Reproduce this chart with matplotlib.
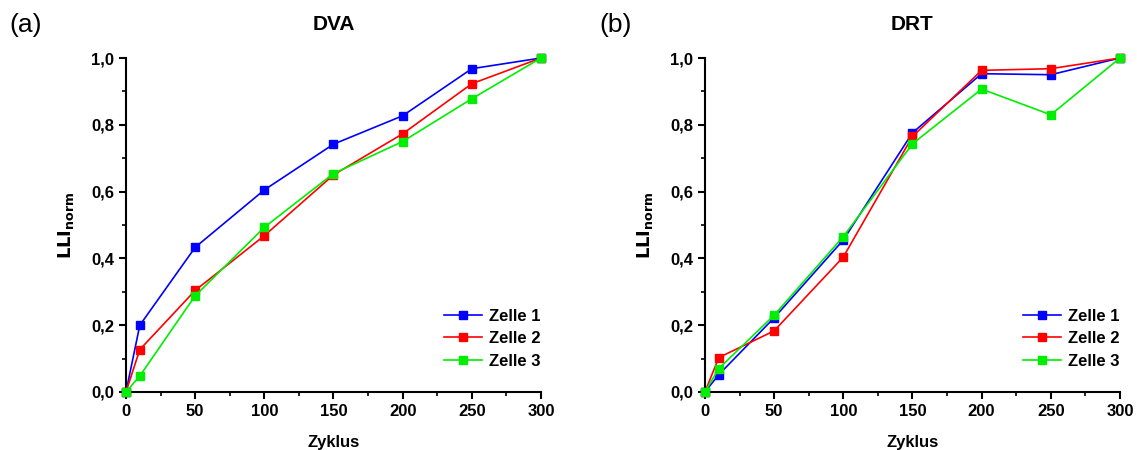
import matplotlib
matplotlib.use("Agg")
import matplotlib.pyplot as plt
from matplotlib.ticker import FuncFormatter, MultipleLocator

plt.rcParams['font.family'] = ['Liberation Sans', 'DejaVu Sans']

# data
cycles = [0, 10, 50, 100, 150, 200, 250, 300]
dva_z1 = [0, 0.200, 0.433, 0.605, 0.742, 0.827, 0.968, 1.0]
dva_z2 = [0, 0.127, 0.304, 0.468, 0.650, 0.773, 0.923, 1.0]
dva_z3 = [0, 0.048, 0.288, 0.493, 0.654, 0.750, 0.878, 1.0]
drt_z1 = [0, 0.052, 0.222, 0.455, 0.776, 0.953, 0.950, 1.0]
drt_z2 = [0, 0.103, 0.183, 0.404, 0.765, 0.963, 0.968, 1.0]
drt_z3 = [0, 0.070, 0.230, 0.465, 0.743, 0.907, 0.830, 1.0]
labels = ["Zelle 1", "Zelle 2", "Zelle 3"]
colors = ["#0000ff", "#ff0000", "#00ee00"]

fig = plt.figure(figsize=(11.37, 4.5), dpi=100)
ax1 = fig.add_axes([0.1108, 0.1289, 0.365, 0.7422])
ax2 = fig.add_axes([0.620, 0.1289, 0.365, 0.7422])

comma = FuncFormatter(lambda v, p: ("%.1f" % v).replace(".", ","))

for ax, series, title, tag, tx in [(ax1, [dva_z1, dva_z2, dva_z3], "DVA", "(a)", 0.008),
                                   (ax2, [drt_z1, drt_z2, drt_z3], "DRT", "(b)", 0.527)]:
    for ys, lab, col in zip(series, labels, colors):
        ax.plot(cycles, ys, color=col, marker="s", markersize=6, lw=1.2,
                label=lab, clip_on=False, zorder=3)
    ax.set_xlim(0, 300)
    ax.set_ylim(0, 1.0)
    ax.spines["top"].set_visible(False)
    ax.spines["right"].set_visible(False)
    ax.spines["left"].set_linewidth(1.5)
    ax.spines["bottom"].set_linewidth(1.5)
    ax.xaxis.set_major_locator(MultipleLocator(50))
    ax.xaxis.set_minor_locator(MultipleLocator(25))
    ax.yaxis.set_major_locator(MultipleLocator(0.2))
    ax.yaxis.set_minor_locator(MultipleLocator(0.1))
    ax.yaxis.set_major_formatter(comma)
    ax.tick_params(which="major", direction="out", length=5, width=1.5,
                   labelsize=12)
    ax.tick_params(which="minor", direction="out", length=3, width=1.2)
    for t in ax.get_xticklabels() + ax.get_yticklabels():
        t.set_fontweight("bold")
    ax.set_xlabel("Zyklus", fontsize=12, fontweight="bold", labelpad=12)
    ax.set_ylabel(r"$\mathbf{LLI_{norm}}$", fontsize=13, labelpad=11)
    ax.set_title(title, fontsize=15, fontweight="bold", pad=20)
    fig.text(tx, 0.945, tag, fontsize=19, va="center")
    ax.legend(loc="lower right", bbox_to_anchor=(1.035, 0.025), frameon=False,
              prop={"weight": "bold", "size": 12}, handlelength=2.3,
              labelspacing=0.45, handletextpad=0.4)

fig.savefig("out.png", dpi=100)
